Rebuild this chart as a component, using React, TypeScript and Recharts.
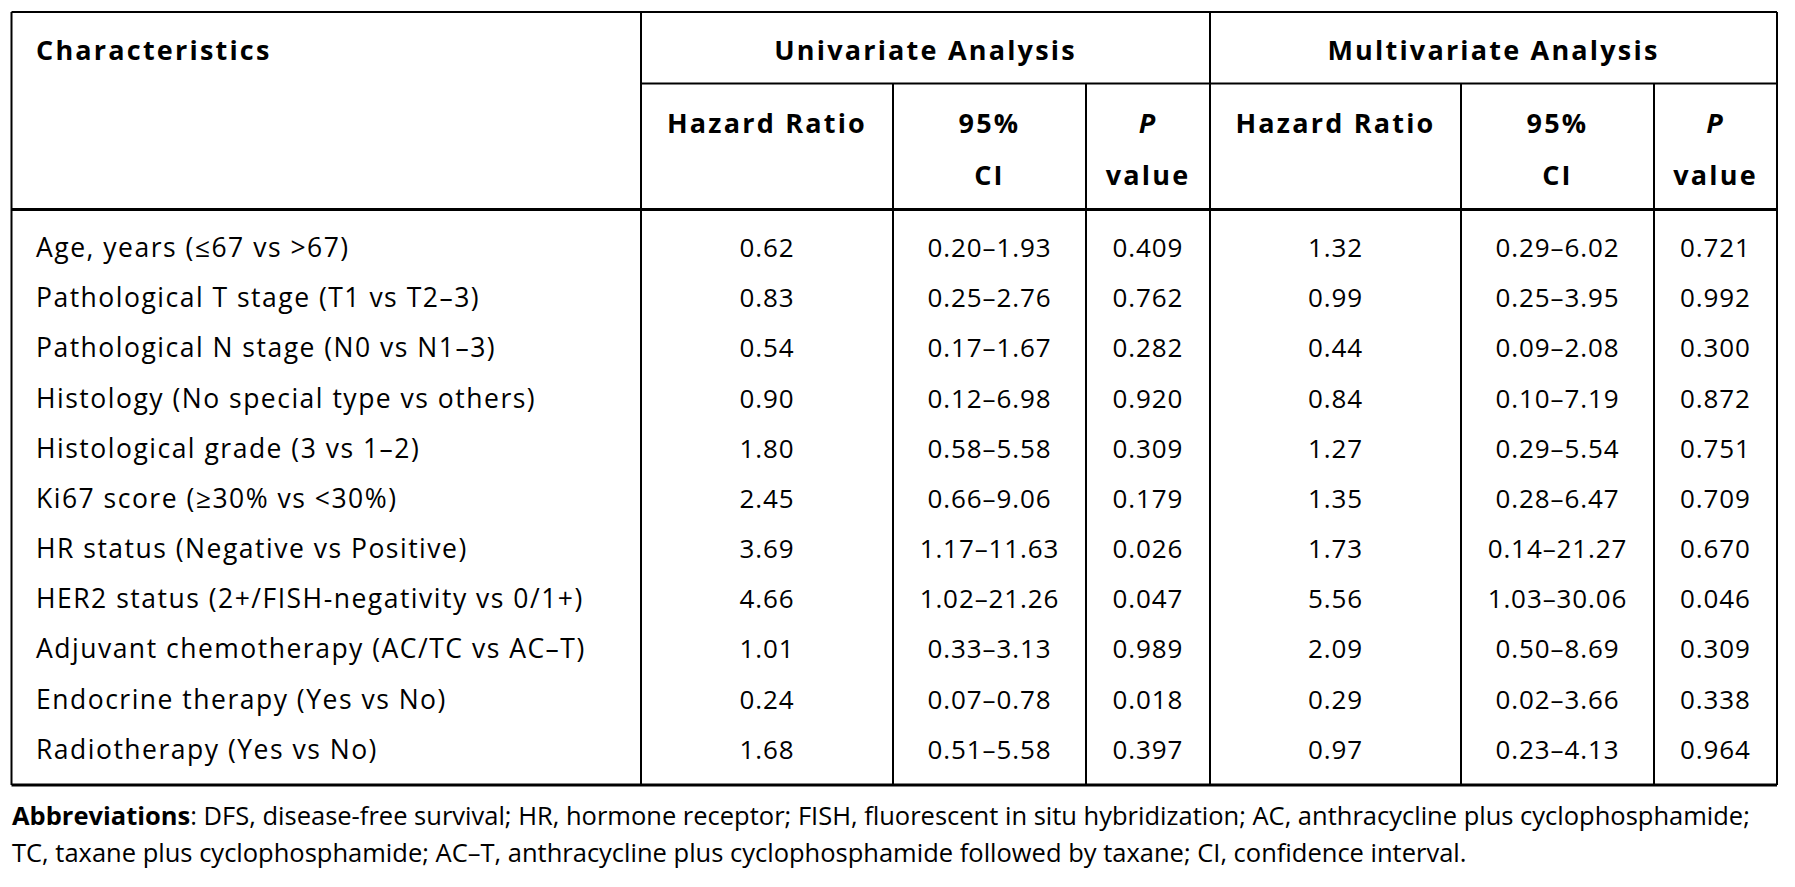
import { ScatterChart, Scatter, XAxis, YAxis, ReferenceLine } from "recharts";

const characteristics = [
  "Age, years (≤67 vs >67)",
  "Pathological T stage (T1 vs T2–3)",
  "Pathological N stage (N0 vs N1–3)",
  "Histology (No special type vs others)",
  "Histological grade (3 vs 1–2)",
  "Ki67 score (≥30% vs <30%)",
  "HR status (Negative vs Positive)",
  "HER2 status (2+/FISH-negativity vs 0/1+)",
  "Adjuvant chemotherapy (AC/TC vs AC–T)",
  "Endocrine therapy (Yes vs No)",
  "Radiotherapy (Yes vs No)",
];

const uniHR = [0.62, 0.83, 0.54, 0.9, 1.8, 2.45, 3.69, 4.66, 1.01, 0.24, 1.68];
const uniCI = [
  [0.2, 1.93], [0.25, 2.76], [0.17, 1.67], [0.12, 6.98], [0.58, 5.58], [0.66, 9.06],
  [1.17, 11.63], [1.02, 21.26], [0.33, 3.13], [0.07, 0.78], [0.51, 5.58],
];
const uniP = [0.409, 0.762, 0.282, 0.92, 0.309, 0.179, 0.026, 0.047, 0.989, 0.018, 0.397];

const multiHR = [1.32, 0.99, 0.44, 0.84, 1.27, 1.35, 1.73, 5.56, 2.09, 0.29, 0.97];
const multiCI = [
  [0.29, 6.02], [0.25, 3.95], [0.09, 2.08], [0.1, 7.19], [0.29, 5.54], [0.28, 6.47],
  [0.14, 21.27], [1.03, 30.06], [0.5, 8.69], [0.02, 3.66], [0.23, 4.13],
];
const multiP = [0.721, 0.992, 0.3, 0.872, 0.751, 0.709, 0.67, 0.046, 0.309, 0.338, 0.964];

const groupHeaders = ["Univariate Analysis", "Multivariate Analysis"];
const subHeaders = ["Hazard Ratio", "95%|CI", "P|value"];

// layout (px)
const W = 1795;
const H = 800;
const FONT = "'Open Sans', Lato, sans-serif";
const edges = [11.5, 641, 893, 1086, 1210, 1461, 1654, 1777];
const headMid = 83.5;
const headBottom = 209.5;
const tableBottom = 785;
const firstRowY = 247;
const rowStep = 50.17;

const rowY = (i: number) => firstRowY + i * rowStep;
const mid = (c: number) => (edges[c] + edges[c + 1]) / 2;
const fmtCI = (ci: number[]) => `${ci[0].toFixed(2)}–${ci[1].toFixed(2)}`;

const columns = [
  characteristics,
  uniHR.map((v) => v.toFixed(2)),
  uniCI.map(fmtCI),
  uniP.map((v) => v.toFixed(3)),
  multiHR.map((v) => v.toFixed(2)),
  multiCI.map(fmtCI),
  multiP.map((v) => v.toFixed(3)),
];

const headerCells = [
  { x: 36, y: 49, label: "Characteristics", anchor: "start" },
  { x: (edges[1] + edges[4]) / 2, y: 49, label: groupHeaders[0], anchor: "middle" },
  { x: (edges[4] + edges[7]) / 2, y: 49, label: groupHeaders[1], anchor: "middle" },
  ...[1, 2, 3, 4, 5, 6].flatMap((c) => {
    const parts = subHeaders[(c - 1) % 3].split("|");
    return parts.map((p, k) => ({
      x: mid(c),
      y: 122.5 + k * 51.5,
      label: p,
      anchor: "middle",
      italic: p === "P",
    }));
  }),
];

const CellText = (props: any) => {
  const { cx, cy, payload, bold, wide } = props;
  return (
    <text
      x={cx}
      y={cy}
      textAnchor={payload.anchor || "middle"}
      dominantBaseline="central"
      fontFamily={FONT}
      fontSize={bold ? 27 : wide ? 26.5 : 26}
      fontWeight={bold ? 700 : 400}
      fontStyle={payload.italic ? "italic" : "normal"}
      letterSpacing={bold ? 2.2 : wide ? 1.5 : 0.9}
      fill="#000"
    >
      {payload.label}
    </text>
  );
};

const lines: { x1: number; y1: number; x2: number; y2: number; w: number }[] = [
  { x1: edges[0], y1: 12, x2: edges[7], y2: 12, w: 2 },
  { x1: edges[1], y1: headMid, x2: edges[7], y2: headMid, w: 2 },
  { x1: edges[0], y1: headBottom, x2: edges[7], y2: headBottom, w: 3 },
  { x1: edges[0], y1: tableBottom, x2: edges[7], y2: tableBottom, w: 3 },
  { x1: edges[0], y1: 12, x2: edges[0], y2: tableBottom, w: 2 },
  { x1: edges[7], y1: 12, x2: edges[7], y2: tableBottom, w: 2 },
  { x1: edges[1], y1: 12, x2: edges[1], y2: tableBottom, w: 2 },
  { x1: edges[4], y1: 12, x2: edges[4], y2: tableBottom, w: 2 },
  ...[2, 3, 5, 6].map((c) => ({ x1: edges[c], y1: headMid, x2: edges[c], y2: tableBottom, w: 2 })),
];

export default function App() {
  return (
    <div style={{ position: "absolute", left: 0, top: 0, width: W, height: 887, background: "#fff" }}>
      <ScatterChart width={W} height={H} margin={{ top: 0, right: 0, bottom: 0, left: 0 }}>
        <XAxis type="number" dataKey="x" domain={[0, W]} hide allowDataOverflow />
        <YAxis type="number" dataKey="y" domain={[0, H]} reversed hide allowDataOverflow />
        {lines.map((l, i) => (
          <ReferenceLine
            key={i}
            segment={[{ x: l.x1, y: l.y1 }, { x: l.x2, y: l.y2 }]}
            stroke="#000"
            strokeWidth={l.w}
            ifOverflow="visible"
          />
        ))}
        <Scatter
          data={headerCells}
          isAnimationActive={false}
          shape={(p: any) => <CellText {...p} bold />}
        />
        {columns.map((col, c) => (
          <Scatter
            key={c}
            data={col.map((label, i) => ({
              x: c === 0 ? 36 : mid(c),
              y: rowY(i),
              label,
              anchor: c === 0 ? "start" : "middle",
            }))}
            isAnimationActive={false}
            shape={(p: any) => <CellText {...p} wide={c === 0} />}
          />
        ))}
      </ScatterChart>
      <div
        style={{
          position: "absolute",
          left: 12,
          top: 797,
          fontFamily: FONT,
          fontSize: 25.5,
          lineHeight: "37px",
          color: "#000",
          whiteSpace: "nowrap",
        }}
      >
        <div>
          <b>Abbreviations</b>: DFS, disease-free survival; HR, hormone receptor; FISH, fluorescent in situ hybridization; AC,
          anthracycline plus cyclophosphamide;
        </div>
        <div>TC, taxane plus cyclophosphamide; AC–T, anthracycline plus cyclophosphamide followed by taxane; CI, confidence interval.</div>
      </div>
    </div>
  );
}
